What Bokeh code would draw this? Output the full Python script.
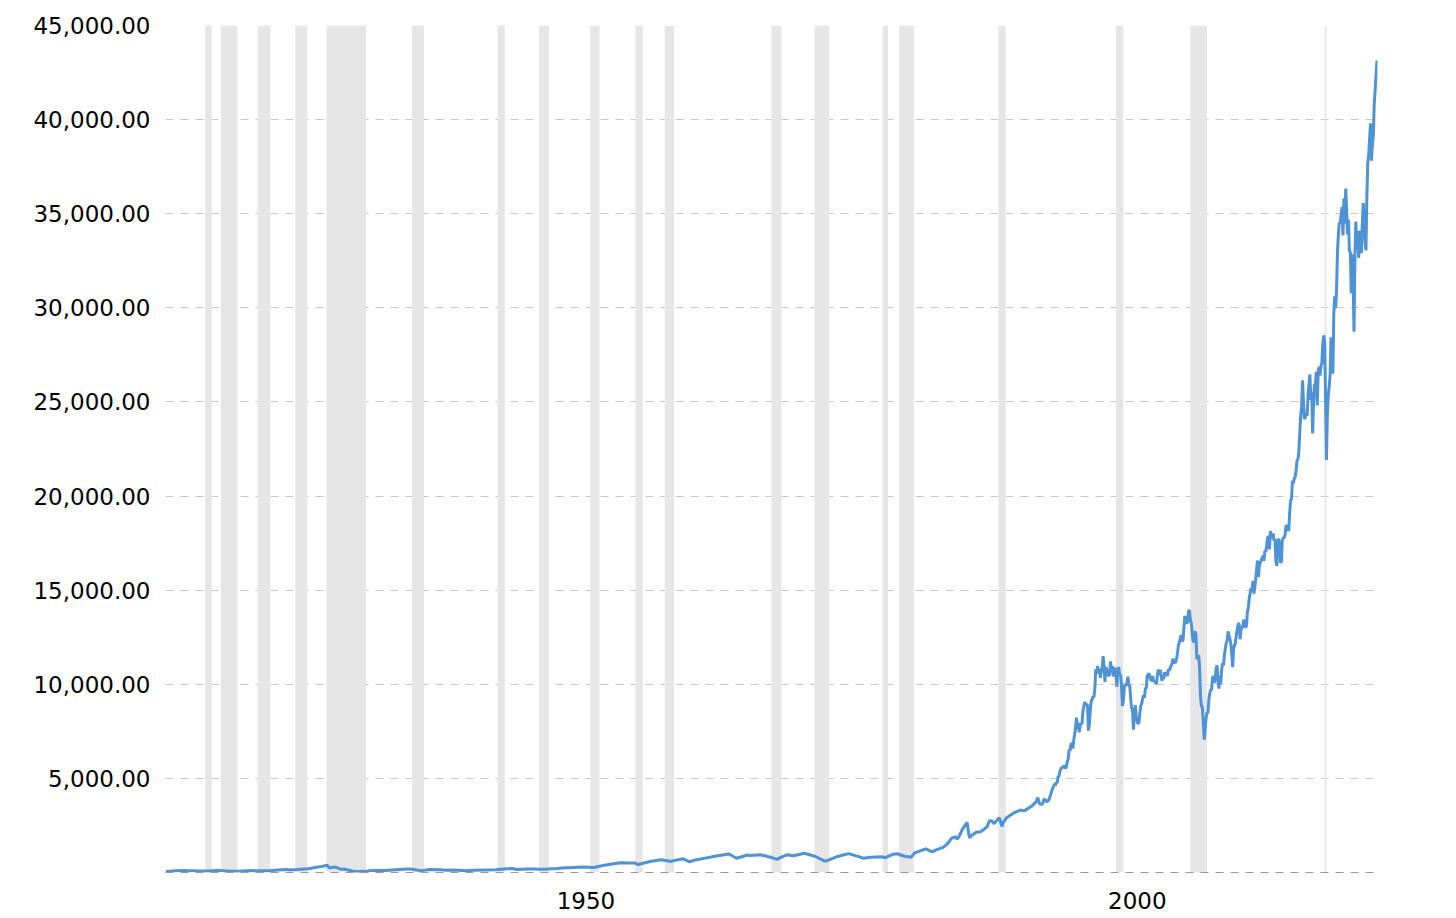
from bokeh.plotting import figure
from bokeh.models import Range1d, FixedTicker, NumeralTickFormatter
from bokeh.embed import file_html
from bokeh.resources import INLINE

# ---- data (Dow Jones Industrial Average, nominal) ----
# sparse points before 1995 (decimal year, month-end)
early_dates = [
    1915.0, 1915.33, 1915.92, 1916.83, 1916.92, 1917.5, 1917.92, 1918.75, 1918.92,
    1919.83, 1919.92, 1920.92, 1921.67, 1921.92, 1922.83, 1922.92, 1923.33, 1923.75,
    1923.92, 1924.42, 1924.92, 1925.92, 1926.25, 1926.92, 1927.92, 1928.92, 1929.67,
    1929.83, 1929.92, 1930.33, 1930.92, 1931.17, 1931.92, 1932.5, 1932.67, 1933.17,
    1933.58, 1933.92, 1934.92, 1935.92, 1936.92, 1937.17, 1937.92, 1938.25, 1938.92,
    1939.92, 1940.42, 1940.92, 1941.92, 1942.33, 1942.92, 1943.92, 1944.92, 1945.92,
    1946.42, 1946.83, 1947.92, 1948.5, 1948.92, 1949.5, 1949.92, 1950.5, 1950.92,
    1951.92, 1952.92, 1953.67, 1953.92, 1954.92, 1955.92, 1956.25, 1956.92, 1957.5,
    1957.83, 1957.92, 1958.92, 1959.92, 1960.83, 1960.92, 1961.92, 1962.5, 1962.92,
    1963.92, 1964.92, 1965.92, 1966.08, 1966.75, 1966.92, 1967.75, 1967.92, 1968.92,
    1969.92, 1970.42, 1970.92, 1971.33, 1971.92, 1972.92, 1973.92, 1974.75, 1974.92,
    1975.92, 1976.92, 1977.92, 1978.25, 1978.92, 1979.92, 1980.25, 1980.92, 1981.33,
    1981.92, 1982.58, 1982.92, 1983.92, 1984.5, 1984.92, 1985.5, 1985.92, 1986.25,
    1986.67, 1986.75, 1986.92, 1987.25, 1987.67, 1987.83, 1987.92, 1988.0, 1988.5,
    1988.92, 1989.5, 1989.67, 1989.92, 1990.08, 1990.58, 1990.83, 1990.92, 1991.25,
    1991.92, 1992.5, 1992.75, 1992.92, 1993.5, 1993.92, 1994.08, 1994.25, 1994.5,
    1994.67, 1994.92, 1995.0,
]
early_values = [
    55, 65, 99, 110, 95, 90, 74, 85, 82,
    119, 107, 72, 68, 81, 103, 99, 97, 88,
    95, 90, 120, 156, 136, 157, 200, 300, 381,
    238, 248, 294, 165, 190, 78, 43, 73, 55,
    104, 100, 104, 144, 180, 187, 121, 99, 155,
    150, 116, 131, 111, 93, 119, 136, 152, 193,
    212, 163, 181, 190, 177, 167, 200, 209, 235,
    269, 292, 264, 281, 404, 488, 512, 500, 508,
    420, 436, 584, 679, 580, 616, 731, 561, 652,
    763, 874, 969, 984, 757, 786, 927, 905, 944,
    800, 700, 839, 941, 890, 1020, 851, 608, 616,
    852, 1005, 831, 757, 805, 839, 785, 964, 998,
    875, 809, 1047, 1259, 1100, 1212, 1335, 1547, 1819,
    1898, 1768, 1896, 2305, 2663, 1994, 1834, 1939, 2142,
    2169, 2440, 2737, 2753, 2591, 2905, 2442, 2634, 2914,
    3169, 3319, 3272, 3301, 3516, 3754, 3978, 3636, 3625,
    3913, 3739, 3834,
]

# monthly closes from January 1995 onward
monthly_start_year = 1995
monthly_values = [
    3844, 4011, 4158, 4321, 4465, 4556, 4709, 4611, 4789, 4756, 5075, 5117,
    5395, 5486, 5587, 5569, 5643, 5655, 5529, 5616, 5882, 6029, 6522, 6448,
    6813, 6878, 6584, 7009, 7331, 7673, 8223, 7622, 7945, 7442, 7823, 7908,
    7907, 8546, 8800, 9063, 8900, 8952, 8883, 7539, 7843, 8592, 9117, 9181,
    9359, 9307, 9786, 10789, 10560, 10971, 10655, 10829, 10337, 10729, 10878, 11497,
    10941, 10128, 10922, 10734, 10522, 10448, 10522, 11215, 10651, 10971, 10415, 10788,
    10887, 10495, 9879, 10735, 10912, 10502, 10523, 9950, 8848, 9075, 9852, 10022,
    9920, 10106, 10404, 9946, 9925, 9243, 8737, 8664, 7592, 8397, 8896, 8342,
    8054, 7891, 7992, 8480, 8850, 8985, 9234, 9416, 9275, 9801, 9782, 10454,
    10488, 10584, 10358, 10226, 10188, 10435, 10140, 10174, 10080, 10027, 10428, 10783,
    10490, 10766, 10504, 10193, 10467, 10275, 10641, 10482, 10569, 10440, 10806, 10718,
    10865, 10993, 11109, 11367, 11168, 11150, 11186, 11381, 11679, 12081, 12221, 12463,
    12622, 12269, 12354, 13063, 13628, 13409, 13212, 13358, 13896, 13930, 13372, 13265,
    12650, 12266, 12263, 12820, 12638, 11350, 11378, 11544, 10851, 9325, 8829, 8776,
    8001, 7063, 7609, 8168, 8500, 8447, 9172, 9496, 9712, 9713, 10345, 10428,
    10067, 10325, 10857, 11009, 10137, 9774, 10466, 10015, 10788, 11118, 11006, 11578,
    11892, 12226, 12320, 12811, 12570, 12414, 12143, 11614, 10913, 11955, 12046, 12218,
    12633, 12952, 13212, 13214, 12393, 12880, 13009, 13091, 13437, 13096, 13026, 13104,
    13861, 14054, 14579, 14840, 15116, 14910, 15500, 14810, 15130, 15546, 16086, 16577,
    15699, 16322, 16458, 16581, 16717, 16827, 16563, 17098, 17043, 17391, 17828, 17823,
    17165, 18133, 17776, 17841, 18011, 17620, 17690, 16528, 16285, 17664, 17720, 17425,
    16466, 16517, 17685, 17774, 17787, 17930, 18432, 18401, 18308, 18142, 19124, 19763,
    19864, 20812, 20663, 20941, 21009, 21350, 21891, 21948, 22405, 23377, 24272, 24719,
    26149, 25029, 24103, 24163, 24416, 24271, 25415, 25965, 26458, 25116, 25538, 23327,
    24999, 25916, 25929, 26593, 24815, 26600, 26864, 26403, 26917, 27046, 28051, 28538,
    28256, 25409, 21917, 24346, 25383, 25813, 26428, 28430, 27782, 26502, 29638, 30606,
    29983, 30932, 32982, 33875, 34529, 34503, 34935, 35361, 33844, 35820, 34484, 36338,
    35132, 33893, 34678, 32977, 32990, 30775, 32845, 31510, 28726, 32733, 34590, 33147,
    34086, 32657, 33274, 34098, 32908, 34408, 35560, 34722, 33508, 33053, 35951, 37690,
    38150, 38996, 39807, 37816, 38686, 39119, 40843, 41563, 42330, 43140,
]

# recessions (start month, end month)
recession_periods = [
    ("1918-08", "1919-03"), ("1920-01", "1921-07"), ("1923-05", "1924-07"),
    ("1926-10", "1927-11"), ("1929-08", "1933-03"), ("1937-05", "1938-06"),
    ("1945-02", "1945-10"), ("1948-11", "1949-10"), ("1953-07", "1954-05"),
    ("1957-08", "1958-04"), ("1960-04", "1961-02"), ("1969-12", "1970-11"),
    ("1973-11", "1975-03"), ("1980-01", "1980-07"), ("1981-07", "1982-11"),
    ("1990-07", "1991-03"), ("2001-03", "2001-11"), ("2007-12", "2009-06"),
    ("2020-02", "2020-04"),
]

y_ticks = [5000, 10000, 15000, 20000, 25000, 30000, 35000, 40000, 45000]
x_tick_years = [1950, 2000]
x_tick_labels = ["1950", "2000"]


def ym(s):
    y, m = s.split("-")
    return int(y) + (int(m) - 1) / 12.0


dates = early_dates + [monthly_start_year + (i + 1) / 12.0 for i in range(len(monthly_values))]
values = early_values + monthly_values
rec_start = [ym(a) for a, b in recession_periods]
rec_end = [ym(b) for a, b in recession_periods]

# the reference draws each year label just to the right of its year position;
# shift the label anchor by about half a label width (in years)
label_shift = 3.1
x_tick_pos = [yr + label_shift for yr in x_tick_years]

p = figure(
    frame_width=1212, frame_height=847,
    x_range=Range1d(1914.98, 2024.88), y_range=Range1d(0, 45000),
    output_backend="svg", toolbar_location=None,
    min_border_left=165, min_border_top=25, min_border_bottom=40, min_border_right=40,
)
p.outline_line_color = None
p.background_fill_color = "white"
p.border_fill_color = "white"

p.quad(left=rec_start, right=rec_end, bottom=0, top=45000,
       fill_color="#e6e6e6", line_color=None)
p.line(dates, values, line_color="#4f92d6", line_width=3)

# y axis
p.yaxis.ticker = FixedTicker(ticks=y_ticks)
p.yaxis.formatter = NumeralTickFormatter(format="0,0.00")
p.yaxis.axis_line_color = None
p.yaxis.major_tick_line_color = None
p.yaxis.minor_tick_line_color = None
p.yaxis.major_label_text_font = "DejaVu Sans"
p.yaxis.major_label_text_font_size = "23px"
p.yaxis.major_label_text_color = "#000000"
p.yaxis.major_label_standoff = 9

p.ygrid.ticker = FixedTicker(ticks=y_ticks)
p.ygrid.grid_line_color = "#c8c8c8"
p.ygrid.grid_line_dash = "8 7"
p.ygrid.grid_line_width = 1
p.xgrid.visible = False

# x axis
p.xaxis.ticker = FixedTicker(ticks=x_tick_pos)
p.xaxis.major_label_overrides = {pos: lab for pos, lab in zip(x_tick_pos, x_tick_labels)}
p.xaxis.axis_line_color = "#999999"
p.xaxis.axis_line_dash = "8 7"
p.xaxis.axis_line_width = 1
p.xaxis.major_tick_line_color = None
p.xaxis.minor_tick_line_color = None
p.xaxis.major_label_text_font = "DejaVu Sans"
p.xaxis.major_label_text_font_size = "23px"
p.xaxis.major_label_text_color = "#000000"
p.xaxis.major_label_standoff = 13

open("out.html", "w").write(file_html(p, INLINE))
